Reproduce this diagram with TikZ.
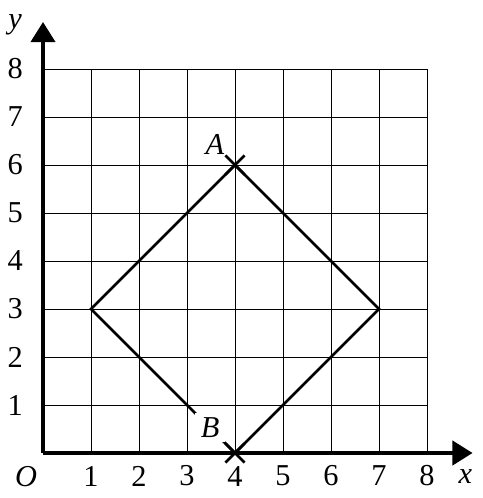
\documentclass[tikz,border=0pt]{standalone}
\usepackage{fontspec}
\setmainfont{Liberation Serif}
\usetikzlibrary{arrows.meta,calc}
\begin{document}
\begin{tikzpicture}[x=1cm,y=1cm,
  gridline/.style={black,line width=0.5pt},
  axisline/.style={line width=2.4pt,-{Triangle[width=0.5cm,length=0.42cm]}},
  shapeline/.style={line width=1.6pt},
  lbl/.style={font=\fontsize{18}{18}\selectfont,inner sep=1pt},
  crossmark/.style={line width=1.6pt}]
\useasboundingbox (-0.896,-0.9375) rectangle (9.146,9.4375);
\draw[gridline] (0,0) grid (8,8);
\coordinate (O) at (0,0);
\coordinate (xend) at (8.95,0);
\coordinate (yend) at (0,8.98);
\draw[axisline] (O) -- (xend);
\draw[axisline] (O) -- (yend);
\coordinate (A) at (4,6);
\coordinate (B) at (4,0);
\coordinate (L) at (1,3);
\coordinate (R) at (7,3);
\draw[shapeline,line join=miter] (B) -- (L) -- (A) -- (R) -- (B);
\foreach \p in {A,B}{
  \draw[crossmark] ($(\p)+(-0.2,-0.2)$) -- ($(\p)+(0.2,0.2)$);
  \draw[crossmark] ($(\p)+(-0.2,0.2)$) -- ($(\p)+(0.2,-0.2)$);
}
\node[lbl] (lA) at (3.58,6.42) {\textit{A}};
\node[lbl,fill=white,inner sep=0pt,minimum width=0.63cm,minimum height=0.6cm] (lB) at (3.48,0.53) {\textit{B}};
\node[lbl] (lO) at (-0.35,-0.5) {\textit{O}};
\node[lbl] (lx) at (8.8,-0.5) {\textit{x}};
\node[lbl] (ly) at (-0.58,8.93) {\textit{y}};
\foreach \i in {1,...,8}{
  \node[lbl] (xl\i) at (\i,-0.48) {\i};
  \node[lbl] (yl\i) at (-0.58,\i) {\i};
}
\end{tikzpicture}
\end{document}
